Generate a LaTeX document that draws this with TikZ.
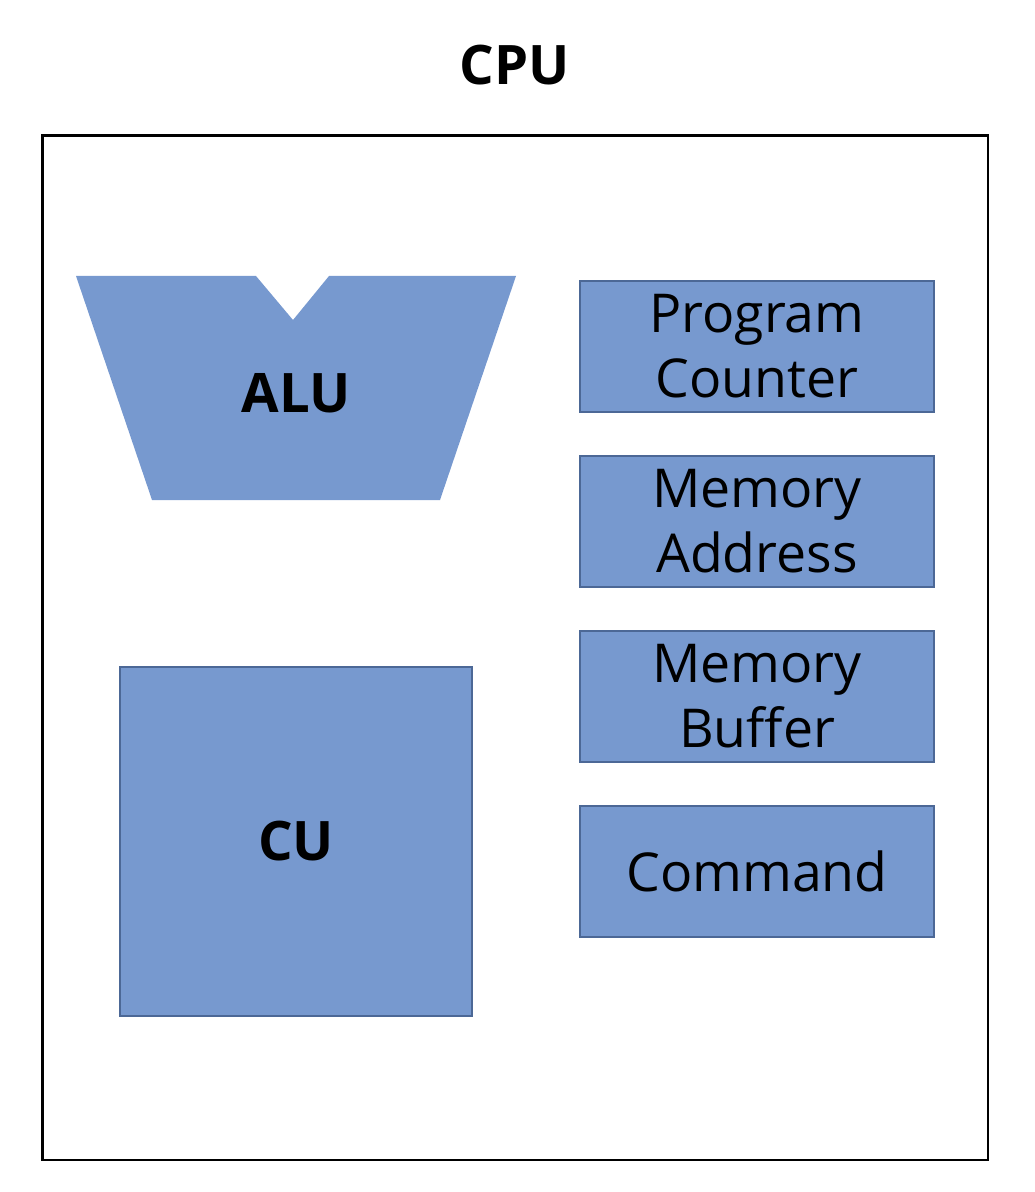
\documentclass[tikz,border=0pt]{standalone}
\usepackage{fontspec}
\setmainfont{Open Sans}
\usetikzlibrary{positioning}
\definecolor{bluFill}{RGB}{119,153,207}
\definecolor{bluEdge}{RGB}{76,104,150}

\begin{document}
\begin{tikzpicture}[
    x=0.02cm, y=-0.02cm,
    line join=miter,
    cornice/.style  = {draw=black, line width=1.6pt, minimum width=18.92cm, minimum height=20.5cm, inner sep=0pt},
    titolo/.style   = {font=\fontsize{31}{37}\selectfont\bfseries, inner sep=0pt},
    blocco/.style   = {fill=bluFill, draw=bluEdge, line width=1.1pt, inner sep=0pt},
    registro/.style = {blocco, minimum width=7.08cm, minimum height=2.62cm, align=center,
                       font=\fontsize{30.5}{37}\selectfont},
    nome/.style     = {font=\fontsize{31}{37}\selectfont\bfseries, inner sep=0pt}
]
\useasboundingbox (0,0) rectangle (1034,1192);

% ---- contenitore CPU ----
\node[cornice] (cpu) at (515,647.5) {};
\node[titolo] (titolo) at (515,65) {CPU};

% ---- ALU ----
\fill[bluFill] (76,276) -- (256,276) -- (293,320) -- (329,276) -- (516,276)
    -- (440,500) -- (152,500) -- cycle;
\node[nome] (alu) at (296,393) {ALU};

% ---- unita di controllo ----
\node[blocco, minimum width=7.04cm, minimum height=6.98cm, nome] (cu) at (296,841.5) {CU};

% ---- registri ----
\node[registro] (pc) at (757,346.5) {Program\\Counter};
\node[registro, below=0.84cm of pc] (mar) {Memory\\Address};
\node[registro, below=0.84cm of mar] (mbr) {Memory\\Buffer};
\node[registro, below=0.84cm of mbr] (cmd) {Command};

\end{tikzpicture}
\end{document}
